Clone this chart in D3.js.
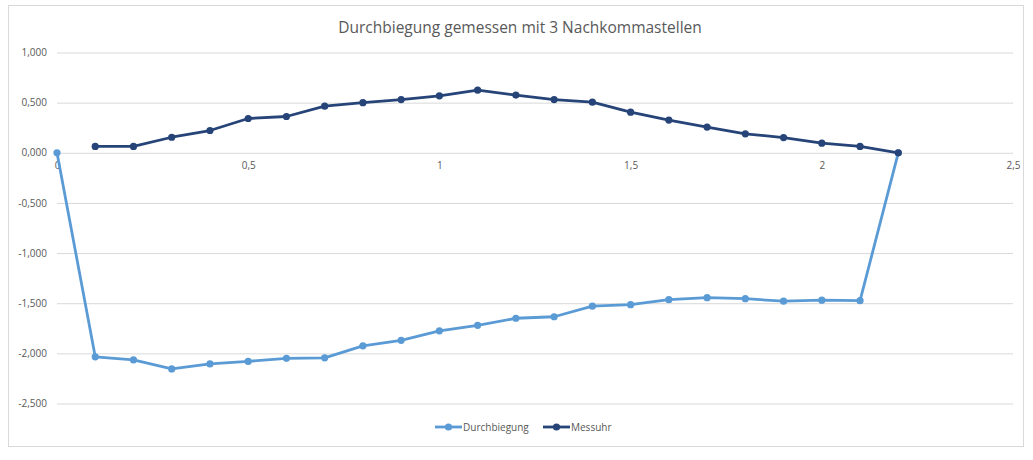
<!DOCTYPE html>
<html>
<head>
<meta charset="utf-8">
<script src="https://cdn.jsdelivr.net/npm/d3@7"></script>
<style>
    body { margin: 0; background: #fff; }
    #chart text { font-family: "Open Sans", "Liberation Sans", sans-serif; fill: #595959; }
</style>
</head>
<body>
<svg id="chart" width="1033" height="460"></svg>
<script>
const chartTitle = "Durchbiegung gemessen mit 3 Nachkommastellen";
const seriesNames = ["Durchbiegung", "Messuhr"];
const seriesColors = ["#5b9bd5", "#264478"];

// x positions (m)
const durchbiegungX = [0, 0.1, 0.2, 0.3, 0.4, 0.5, 0.6, 0.7, 0.8, 0.9, 1.0, 1.1, 1.2, 1.3, 1.4, 1.5, 1.6, 1.7, 1.8, 1.9, 2.0, 2.1, 2.2];
const durchbiegungY = [0, -2.035, -2.065, -2.155, -2.105, -2.080, -2.050, -2.045, -1.925, -1.870, -1.775, -1.720, -1.650, -1.635, -1.530, -1.515, -1.465, -1.445, -1.455, -1.480, -1.470, -1.475, 0];
const messuhrX = [0.1, 0.2, 0.3, 0.4, 0.5, 0.6, 0.7, 0.8, 0.9, 1.0, 1.1, 1.2, 1.3, 1.4, 1.5, 1.6, 1.7, 1.8, 1.9, 2.0, 2.1, 2.2];
const messuhrY = [0.063, 0.063, 0.155, 0.222, 0.342, 0.362, 0.465, 0.500, 0.531, 0.568, 0.624, 0.575, 0.531, 0.505, 0.405, 0.326, 0.256, 0.189, 0.152, 0.096, 0.063, 0];

const yTicks = [1, 0.5, 0, -0.5, -1, -1.5, -2, -2.5];
const xTicks = [0, 0.5, 1, 1.5, 2, 2.5];

const svg = d3.select('#chart');
const plotLeft = 57;
const plotRight = 1013;
const plotTop = 52.5;
const plotBottom = 403.5;

const x = d3.scaleLinear().domain([0, 2.5]).range([plotLeft, plotRight]);
const y = d3.scaleLinear().domain([-2.5, 1]).range([plotBottom, plotTop]);

const commaFormat = function(digits) {
    return function(d) {
        return d3.format("." + digits + "f")(d).replace(".", ",").replace("−", "-");
    };
};

// chart border
svg.append("rect")
    .attr("x", 8.5)
    .attr("y", 5.5)
    .attr("width", 1015)
    .attr("height", 441)
    .attr("fill", "#fff")
    .attr("stroke", "#d9d9d9");

svg.append("text")
    .attr("x", 520)
    .attr("y", 33)
    .attr("text-anchor", "middle")
    .style("font-size", "15.5px")
    .text(chartTitle);

// gridlines + y labels
const yAxis = svg.append("g")
    .attr("transform", "translate(" + plotLeft + ",0)")
    .call(d3.axisLeft(y).tickValues(yTicks).tickFormat(commaFormat(3))
        .tickSize(-(plotRight - plotLeft)).tickPadding(10));
yAxis.select(".domain").remove();
yAxis.selectAll(".tick line").attr("stroke", "#d9d9d9");
yAxis.selectAll(".tick text").style("font-size", "10px").attr("font-family", null);

// x labels sit on the zero line
const xAxis = svg.append("g")
    .attr("transform", "translate(0," + y(0) + ")")
    .call(d3.axisBottom(x).tickValues(xTicks)
        .tickFormat(function(d) { return String(d).replace(".", ","); })
        .tickSize(0).tickPadding(9));
xAxis.select(".domain").remove();
xAxis.selectAll(".tick text").style("font-size", "10px").attr("font-family", null);

const renderSeries = function(xs, ys, color) {
    const points = xs.map(function(d, i) { return [d, ys[i]]; });
    const line = d3.line()
        .x(function(d) { return x(d[0]); })
        .y(function(d) { return y(d[1]); });
    svg.append("path")
        .datum(points)
        .attr("d", line)
        .attr("fill", "none")
        .attr("stroke", color)
        .attr("stroke-width", 2.8)
        .attr("stroke-linejoin", "round");
    svg.append("g")
        .selectAll("circle")
        .data(points)
        .join("circle")
        .attr("cx", function(d) { return x(d[0]); })
        .attr("cy", function(d) { return y(d[1]); })
        .attr("r", 3.6)
        .attr("fill", color);
}

renderSeries(durchbiegungX, durchbiegungY, seriesColors[0]);
renderSeries(messuhrX, messuhrY, seriesColors[1]);

// legend
const legendY = 427;
const legendStarts = [435, 543];
seriesNames.forEach(function(name, i) {
    const lx = legendStarts[i];
    svg.append("line")
        .attr("x1", lx)
        .attr("x2", lx + 27)
        .attr("y1", legendY)
        .attr("y2", legendY)
        .attr("stroke", seriesColors[i])
        .attr("stroke-width", 2.8);
    svg.append("circle")
        .attr("cx", lx + 13.5)
        .attr("cy", legendY)
        .attr("r", 3.6)
        .attr("fill", seriesColors[i]);
    svg.append("text")
        .attr("x", lx + 28)
        .attr("y", legendY + 3.5)
        .style("font-size", "10px")
        .text(name);
});
</script>
</body>
</html>
